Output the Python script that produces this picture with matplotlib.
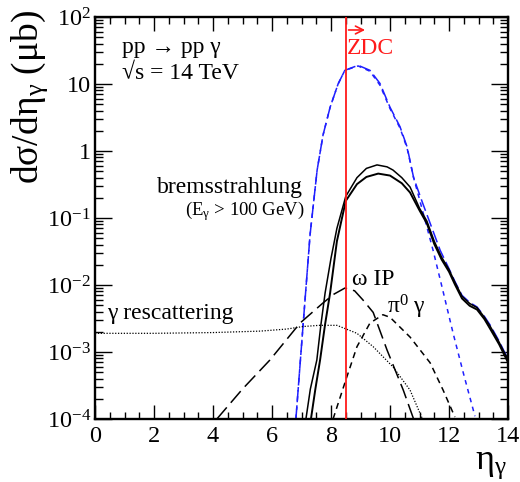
import matplotlib

matplotlib.use("Agg")
import matplotlib.pyplot as plt  # noqa: E402
from matplotlib.ticker import FixedLocator, FixedFormatter, MultipleLocator  # noqa: E402

plt.rcParams["font.family"] = ["Liberation Serif", "DejaVu Serif"]
plt.rcParams["mathtext.fontset"] = "custom"
plt.rcParams["mathtext.rm"] = "Liberation Serif"
plt.rcParams["mathtext.it"] = "Liberation Serif:italic"
plt.rcParams["mathtext.default"] = "rm"

BLUE = "#1f1fff"
RED = "#ff1a1a"
INK = "black"

# bremsstrahlung (E_gamma > 100 GeV), two solid curves
brems_hi_eta = [7.15, 7.3, 7.52, 7.65, 7.8, 8.0, 8.2, 8.5, 8.88, 9.2, 9.56, 9.9, 10.1,
                10.4, 10.68, 11.0, 11.25, 11.5, 11.75, 12.0, 12.2, 12.44, 12.7, 12.95,
                13.2, 13.4, 13.7, 14.0]
brems_hi_val = [1e-4, 2.8e-4, 7.6e-4, 2.4e-3, 7.6e-3, 0.025, 0.07, 0.21, 0.40, 0.55,
                0.62, 0.58, 0.52, 0.40, 0.29, 0.14, 0.09, 0.045, 0.026, 0.017, 0.011,
                0.0068, 0.0053, 0.0046, 0.0033, 0.0024, 0.0014, 7.6e-4]
brems_lo_eta = [7.32, 7.47, 7.63, 7.8, 7.97, 8.2, 8.5, 8.88, 9.2, 9.6, 10.0, 10.4,
                10.68, 11.0, 11.25, 11.5, 11.75, 12.0, 12.2, 12.44, 12.7, 12.95, 13.2,
                13.4, 13.7, 14.0]
brems_lo_val = [1e-4, 2.8e-4, 7.6e-4, 2.6e-3, 7.6e-3, 0.045, 0.18, 0.32, 0.41, 0.46,
                0.43, 0.33, 0.24, 0.13, 0.083, 0.041, 0.024, 0.0158, 0.0102, 0.0063,
                0.0049, 0.0043, 0.0031, 0.0022, 0.0013, 7.0e-4]

# blue curves (long dashed and short dashed)
blue_long_eta = [6.81, 7.05, 7.29, 7.53, 7.73, 7.97, 8.24, 8.47, 8.92, 9.32, 9.66, 10.0,
                 10.34, 10.58, 10.8, 11.1, 11.4, 11.7, 12.0, 12.2, 12.44, 12.7, 12.95,
                 13.2, 13.4, 13.7, 14.0]
blue_long_val = [1.0e-4, 2.4e-3, 0.056, 0.52, 1.73, 4.5, 10.0, 16.0, 19.0, 16.0, 10.2,
                 4.5, 2.3, 1.15, 0.40, 0.17, 0.075, 0.033, 0.0175, 0.0113, 0.007,
                 0.0055, 0.0047, 0.0034, 0.0025, 0.00145, 7.8e-4]
blue_short_eta = [6.81, 7.05, 7.29, 7.53, 7.73, 7.97, 8.24, 8.47, 8.92, 9.32, 9.66, 10.0,
                  10.34, 10.58, 10.8, 11.0, 11.46, 11.8, 12.14, 12.5, 12.88]
blue_short_val = [1.0e-4, 2.4e-3, 0.056, 0.52, 1.73, 4.5, 10.0, 16.0, 18.6, 15.5, 9.6,
                  4.3, 2.2, 1.1, 0.40, 0.19, 0.033, 8.0e-3, 1.9e-3, 4.6e-4, 1.1e-4]

# omega IP (long dashed black)
omega_eta = [4.13, 5.0, 5.93, 6.95, 7.73, 8.1, 8.47, 8.8, 9.08, 9.43, 9.9, 10.45, 10.8]
omega_val = [1e-4, 2.8e-4, 7.6e-4, 2.7e-3, 5.4e-3, 7.3e-3, 9e-3, 8.2e-3, 6e-3, 3.9e-3,
             1.07e-3, 2.7e-4, 1e-4]

# pi0 gamma (short dashed black)
pi0_eta = [8.07, 8.5, 8.88, 9.32, 9.76, 10.0, 10.68, 11.36, 11.8, 12.2]
pi0_val = [1e-4, 3.8e-4, 1.2e-3, 2.7e-3, 3.6e-3, 3.3e-3, 1.67e-3, 6.9e-4, 2.7e-4, 1.07e-4]

# gamma rescattering (dotted)
resc_eta = [0, 2, 4, 5.6, 6.5, 7.05, 7.6, 8.2, 8.88, 9.43, 10.1, 10.68, 11.1]
resc_val = [1.9e-3, 1.9e-3, 1.95e-3, 2.05e-3, 2.2e-3, 2.4e-3, 2.5e-3, 2.5e-3, 1.9e-3,
            1.2e-3, 6e-4, 2.7e-4, 1e-4]

ZDC_ETA = 8.5

y_ticks = [1e-4, 1e-3, 1e-2, 1e-1, 1, 10, 100]
y_tick_labels = [r"$10^{-4}$", r"$10^{-3}$", r"$10^{-2}$", r"$10^{-1}$", "1", "10", r"$10^{2}$"]

fig = plt.figure(figsize=(5.2, 4.82), dpi=100)
ax = fig.add_axes([95 / 520, 1 - 419 / 482, 413 / 520, 402 / 482])

ax.plot(blue_long_eta, blue_long_val, color=BLUE, lw=1.1, dashes=(8, 3), zorder=2)
ax.plot(blue_short_eta, blue_short_val, color=BLUE, lw=1.1, dashes=(3, 3), zorder=2)
ax.plot(brems_hi_eta, brems_hi_val, color=INK, lw=1.1, zorder=3)
ax.plot(brems_lo_eta, brems_lo_val, color=INK, lw=1.4, zorder=3)
ax.plot(omega_eta, omega_val, color=INK, lw=1.1, dashes=(10, 4), zorder=3)
ax.plot(pi0_eta, pi0_val, color=INK, lw=1.1, dashes=(4, 3), zorder=3)
ax.plot(resc_eta, resc_val, color=INK, lw=0.9, dashes=(1, 1.3), zorder=3)
ax.axvline(ZDC_ETA, color=RED, lw=1.3, zorder=4)

ax.set_yscale("log")
ax.set_xlim(0, 14)
ax.set_ylim(1e-4, 1e2)

ax.xaxis.set_major_locator(MultipleLocator(2))
ax.xaxis.set_minor_locator(MultipleLocator(0.5))
ax.yaxis.set_major_locator(FixedLocator(y_ticks))
ax.yaxis.set_major_formatter(FixedFormatter(y_tick_labels))
ax.tick_params(which="both", direction="in", top=True, right=True, labelsize=17.5,
               width=1.0, color=INK, pad=2)
ax.tick_params(which="major", length=10)
ax.tick_params(which="minor", length=5)
ax.tick_params(axis="x", which="major", pad=5)
ax.tick_params(axis="y", which="major", length=12, pad=3)
ax.tick_params(axis="y", which="minor", length=6)
for spine in ax.spines.values():
    spine.set_linewidth(1.7)

# ZDC arrow and label
ax.annotate("", xy=(9.25, 64), xytext=(ZDC_ETA, 64),
            arrowprops=dict(arrowstyle="->", color=RED, lw=1.2, mutation_scale=14))
ax.text(8.55, 34, "ZDC", color=RED, fontsize=17, ha="left", va="center")

ax.text(0.92, 35, "pp → pp γ", fontsize=17, ha="left", va="center")
ax.text(0.92, 14.5, "√s = 14 TeV", fontsize=17, ha="left", va="center")
ax.text(7.05, 0.29, "bremsstrahlung", fontsize=17, ha="right", va="center")
ax.text(7.12, 0.125, r"(E$_{γ}$ > 100 GeV)", fontsize=13.5, ha="right", va="center")
ax.text(8.7, 0.012, "ω IP", fontsize=17, ha="left", va="center")
ax.text(9.9, 0.0047, r"π$^{0}$ γ", fontsize=17, ha="left", va="center")
ax.text(0.4, 0.0038, "γ rescattering", fontsize=17, ha="left", va="center")

fig.text(30 / 520, 1 - 10 / 482, r"dσ/dη$_{γ}$ (μb)", rotation=90, fontsize=27,
         ha="center", va="top")
fig.text(507 / 520, 1 - 448 / 482, r"η$_{γ}$", fontsize=26, ha="right", va="top")

fig.savefig("out.png", dpi=100)
